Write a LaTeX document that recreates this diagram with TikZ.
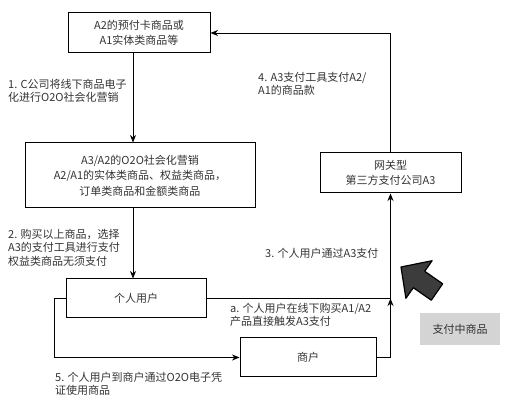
\documentclass[tikz,border=0pt]{standalone}
\usepackage{fontspec}
\setmainfont{Noto Sans CJK SC}
\usetikzlibrary{arrows.meta}
\definecolor{txtgray}{HTML}{333333}
\definecolor{tagfill}{HTML}{D4D4D4}
\definecolor{bigarrow}{HTML}{3C3C3C}
\begin{document}
\begin{tikzpicture}[x=1pt,y=-1pt,>={Stealth[length=7.5pt,width=6pt]}]
\tikzstyle{box}=[draw,line width=1pt,align=center,inner sep=0pt,text=txtgray,font=\fontsize{11}{15.5}\selectfont]
\tikzstyle{lbl}=[anchor=north west,align=left,inner sep=0pt,text=txtgray,font=\fontsize{11}{13.5}\selectfont]
\tikzstyle{link}=[line width=0.9pt]
\useasboundingbox (0,0) rectangle (515,406);
\path (139,33) node[box,minimum width=142pt,minimum height=40pt](card){A2的预付卡商品或\\A1实体类商品等};
\path (140,175.5) node[box,minimum width=230pt,minimum height=65pt](o2o){A3/A2的O2O社会化营销\\A2/A1的实体类商品、权益类商品，\\订单类商品和金额类商品};
\path (136,298.5) node[box,minimum width=140pt,minimum height=39pt](user){个人用户};
\path (308,357.5) node[box,minimum width=136pt,minimum height=39pt](shop){商户};
\path (390.5,173) node[box,minimum width=141pt,minimum height=40pt](gate){网关型\\第三方支付公司A3};
\path (460,329) node[fill=tagfill,minimum width=80pt,minimum height=32pt,inner sep=0pt,text=txtgray,font=\fontsize{11}{13}\selectfont](tag){支付中商品};
\coordinate (ax) at (133,0);
\coordinate (jn) at (user.east -| gate.south);
\path (8,79) node[lbl](l1){1. C公司将线下商品电子\\化进行O2O社会化营销};
\path (8,229) node[lbl](l2){2. 购买以上商品，选择\\A3的支付工具进行支付\\权益类商品无须支付};
\path (258,72) node[lbl](l4){4. A3支付工具支付A2/\\A1的商品款};
\path (265,248) node[lbl](l3){3. 个人用户通过A3支付};
\path (230,303) node[lbl](la){a. 个人用户在线下购买A1/A2\\产品直接触发A3支付};
\path (55,372) node[lbl](l5){5. 个人用户到商户通过O2O电子凭\\证使用商品};
\draw[link,->] (card.south -| ax) -- (o2o.north -| ax);
\draw[link,->] (o2o.south -| ax) -- (user.north -| ax);
\draw[link,->] (gate.north) |- (card.east);
\draw[link,->] (shop.east) -| (gate.south);
\draw[link] (user.east) -- (jn);
\draw[link,->] ([yshift=-5pt]jn) -- (jn);
\draw[link,->] (user.west) -- ++(-11,0) |- (shop.west);
\draw[line width=1.2pt,line join=round,fill=bigarrow] (401,267) -- (432.1,260.7) -- (424.7,271.3) -- (442.7,283.8) -- (431.3,300.2) -- (413.3,287.7) -- (405.9,298.3) -- cycle;
\end{tikzpicture}
\end{document}
